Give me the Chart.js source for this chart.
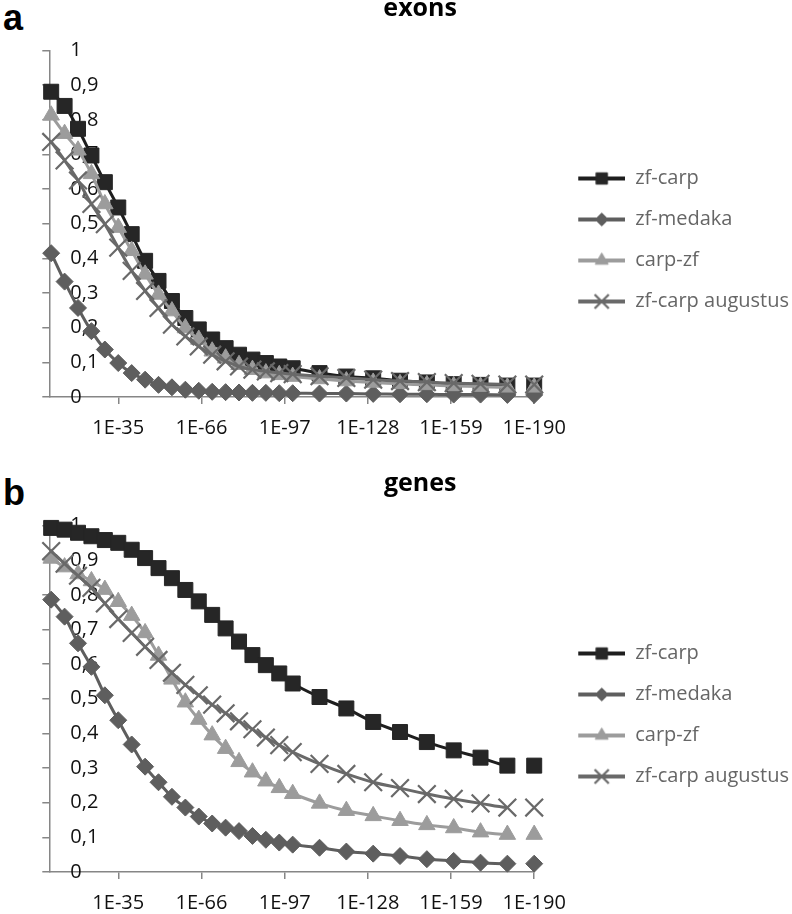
<!DOCTYPE html>
<html>
<head>
<meta charset="utf-8">
<script src="https://cdn.jsdelivr.net/npm/chart.js@4.4.1/dist/chart.umd.min.js"></script>
<style>
  body { margin: 0; background: #fff; width: 792px; height: 914px; position: relative; overflow: hidden; }
  .tag { position: absolute; left: 3px; font: bold 36px 'Liberation Sans', Arial, sans-serif; line-height: 1; color: #000; }
  canvas { position: absolute; left: 0; }
</style>
</head>
<body>
<div class="tag" style="top:0px">a</div>
<canvas id="exons" width="799" height="458" style="top:-6px"></canvas>
<div class="tag" style="top:475px">b</div>
<canvas id="genes" width="799" height="458" style="top:469px"></canvas>
<script>
// e-value exponents of the points (1E-10 ... 1E-190)
const exponents = [10, 15, 20, 25, 30, 35, 40, 45, 50, 55, 60, 65, 70, 75, 80, 85, 90, 95, 100,
                   110, 120, 130, 140, 150, 160, 170, 180, 190];
const xTickValues = [35, 66, 97, 128, 159, 190];
const xTickLabels = ['1E-35', '1E-66', '1E-97', '1E-128', '1E-159', '1E-190'];
const yTickLabels = ['0', '0,1', '0,2', '0,3', '0,4', '0,5', '0,6', '0,7', '0,8', '0,9', '1'];
const seriesNames = ['zf-carp', 'zf-medaka', 'carp-zf', 'zf-carp augustus'];

// panel a: exons
const exonsZfCarp    = [0.881, 0.840, 0.774, 0.697, 0.620, 0.547, 0.470, 0.393, 0.335, 0.277, 0.228, 0.195, 0.166, 0.141, 0.122, 0.108, 0.098, 0.088, 0.083,
                        0.069, 0.059, 0.054, 0.047, 0.042, 0.037, 0.035, 0.033, 0.033];
const exonsZfMedaka  = [0.415, 0.333, 0.257, 0.190, 0.137, 0.098, 0.069, 0.050, 0.035, 0.028, 0.021, 0.018, 0.015, 0.014, 0.013, 0.012, 0.012, 0.011, 0.011,
                        0.010, 0.010, 0.009, 0.008, 0.008, 0.007, 0.007, 0.006, 0.006];
const exonsCarpZf    = [0.813, 0.760, 0.712, 0.644, 0.557, 0.489, 0.422, 0.354, 0.296, 0.248, 0.199, 0.166, 0.132, 0.112, 0.093, 0.079, 0.069, 0.064, 0.059,
                        0.052, 0.046, 0.042, 0.038, 0.035, 0.032, 0.030, 0.028, 0.028];
const exonsAugustus  = [0.736, 0.683, 0.625, 0.557, 0.499, 0.431, 0.364, 0.306, 0.257, 0.209, 0.175, 0.146, 0.122, 0.103, 0.088, 0.079, 0.074, 0.069, 0.066,
                        0.060, 0.055, 0.050, 0.046, 0.043, 0.040, 0.038, 0.036, 0.036];

// panel b: genes
const genesZfCarp    = [0.993, 0.988, 0.979, 0.969, 0.958, 0.950, 0.930, 0.906, 0.877, 0.848, 0.814, 0.781, 0.742, 0.703, 0.665, 0.626, 0.597, 0.573, 0.544,
                        0.505, 0.472, 0.433, 0.404, 0.375, 0.351, 0.330, 0.307, 0.307];
const genesZfMedaka  = [0.786, 0.737, 0.660, 0.592, 0.510, 0.438, 0.368, 0.304, 0.259, 0.217, 0.186, 0.160, 0.140, 0.128, 0.118, 0.104, 0.093, 0.085, 0.079,
                        0.070, 0.059, 0.053, 0.046, 0.037, 0.032, 0.027, 0.024, 0.024];
const genesCarpZf    = [0.905, 0.880, 0.860, 0.840, 0.815, 0.780, 0.740, 0.690, 0.625, 0.556, 0.490, 0.440, 0.395, 0.356, 0.318, 0.288, 0.262, 0.243, 0.226,
                        0.198, 0.177, 0.162, 0.148, 0.136, 0.127, 0.115, 0.108, 0.108];
const genesAugustus  = [0.926, 0.890, 0.855, 0.820, 0.775, 0.730, 0.690, 0.650, 0.612, 0.575, 0.540, 0.510, 0.483, 0.458, 0.435, 0.412, 0.388, 0.366, 0.346,
                        0.312, 0.283, 0.259, 0.242, 0.225, 0.211, 0.198, 0.186, 0.186];

const FONT = "'Open Sans', 'Noto Sans', sans-serif";
const AXIS_GREY = '#868686';

const styles = [
  { line: '#1e1e1e', fill: '#262626', shape: 'rect',     radius: 10.6, border: 1,   legendRadius: 8,   order: 4 },
  { line: '#5e5e5e', fill: '#5e5e5e', shape: 'rectRot',  radius: 8.5,  border: 1,   legendRadius: 6.5, order: 3 },
  { line: '#9c9c9c', fill: '#9c9c9c', shape: 'triangle', radius: 9.5,  border: 1,   legendRadius: 7.5, order: 2 },
  { line: '#696969', fill: '#696969', shape: 'crossRot', radius: 12.5, border: 2.2, legendRadius: 10,  order: 1 }
];

// legend sample: short line with the marker in the middle
function legendIcon(st) {
  const c = document.createElement('canvas');
  c.width = 70; c.height = 24;
  const g = c.getContext('2d');
  g.strokeStyle = st.line; g.lineWidth = 4;
  g.beginPath(); g.moveTo(23, 12); g.lineTo(70, 12); g.stroke();
  g.fillStyle = st.fill; g.strokeStyle = st.fill; g.lineWidth = st.border;
  Chart.helpers.drawPoint(g, { pointStyle: st.shape, radius: st.legendRadius, borderWidth: st.border, rotation: 0 }, 46.5, 12);
  return c;
}
const icons = styles.map(legendIcon);

function makeChart(id, title, series) {
  const datasets = series.map((vals, i) => {
    const st = styles[i];
    return {
      label: seriesNames[i],
      data: exponents.map((e, k) => ({ x: e, y: vals[k] })),
      borderColor: st.line,
      backgroundColor: st.fill,
      borderWidth: 3,
      tension: 0.4,
      pointStyle: st.shape,
      pointRadius: st.radius,
      pointHoverRadius: st.radius,
      pointBackgroundColor: st.fill,
      pointBorderColor: st.fill,
      pointBorderWidth: st.border,
      order: st.order,
      clip: false,
      // the last point stands alone, no line joins it
      segment: { borderColor: c => c.p1DataIndex === exponents.length - 1 ? 'rgba(0,0,0,0)' : undefined }
    };
  });

  return new Chart(document.getElementById(id), {
    type: 'line',
    data: { datasets },
    options: {
      responsive: false,
      animation: false,
      devicePixelRatio: 1,
      layout: { padding: { left: 41.3, right: 0, top: 0, bottom: 0 } },
      plugins: {
        tooltip: { enabled: false },
        title: {
          display: true, text: title, color: '#000',
          font: { family: FONT, size: 25, weight: 'bold' },
          padding: { top: 0, bottom: 26.5 }
        },
        legend: {
          position: 'right',
          align: 'center',
          maxWidth: 320,
          // empty legend title only pushes the entries a little below centre
          title: { display: true, text: '', font: { size: 10 }, padding: { top: 22, bottom: 0 } },
          labels: {
            usePointStyle: true,
            pointStyleWidth: 70,
            padding: 21,
            color: '#000',
            font: { family: FONT, size: 20 },
            generateLabels: chart => chart.data.datasets.map((ds, i) => ({
              text: ds.label, pointStyle: icons[i], datasetIndex: i,
              fillStyle: ds.backgroundColor, strokeStyle: ds.borderColor, lineWidth: 0, hidden: false
            }))
          }
        }
      },
      scales: {
        x: {
          type: 'linear', min: 9.3, max: 190,
          afterBuildTicks: s => { s.ticks = xTickValues.map(v => ({ value: v })); },
          ticks: {
            autoSkip: false, maxRotation: 0, padding: 12, color: '#111',
            font: { family: FONT, size: 20 },
            callback: v => xTickLabels[xTickValues.indexOf(v)]
          },
          grid: { drawOnChartArea: false, tickLength: 7, color: AXIS_GREY, lineWidth: 1.5 },
          border: { color: AXIS_GREY, width: 1.5 }
        },
        y: {
          min: 0, max: 1,
          afterFit: s => { s.width = 8; },
          ticks: {
            stepSize: 0.1, mirror: true, padding: 21, color: '#111',
            font: { family: FONT, size: 20 },
            callback: (v, i) => yTickLabels[i]
          },
          grid: { drawOnChartArea: false, tickLength: 7, color: AXIS_GREY, lineWidth: 1.5 },
          border: { color: AXIS_GREY, width: 1.5 }
        }
      }
    }
  });
}

makeChart('exons', 'exons', [exonsZfCarp, exonsZfMedaka, exonsCarpZf, exonsAugustus]);
makeChart('genes', 'genes', [genesZfCarp, genesZfMedaka, genesCarpZf, genesAugustus]);
</script>
</body>
</html>
